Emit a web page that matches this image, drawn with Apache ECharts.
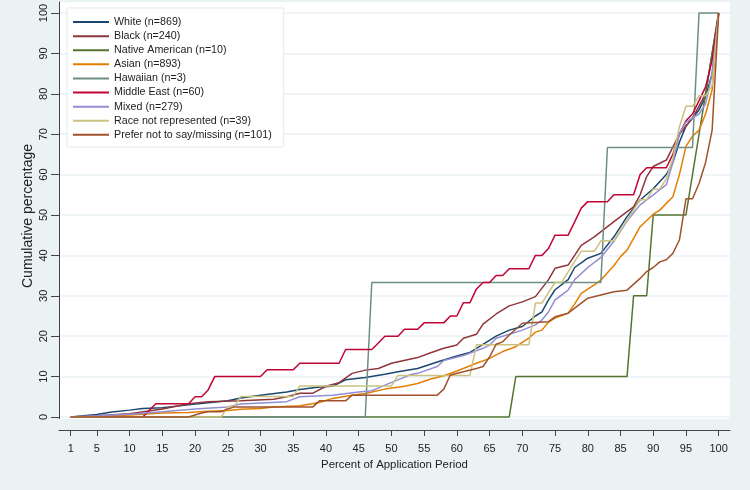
<!DOCTYPE html>
<html>
<head>
<meta charset="utf-8">
<script src="https://cdn.jsdelivr.net/npm/echarts@6/dist/echarts.min.js"></script>
<style>
  html, body { margin: 0; background: #eaf2f3; }
  #main { width: 750px; height: 490px; }
</style>
</head>
<body>
<div id="main"></div>
<script>
// tick labels
const xTicks = [1, 5, 10, 15, 20, 25, 30, 35, 40, 45, 50, 55, 60, 65, 70, 75, 80, 85, 90, 95, 100];
const yTicks = [0, 10, 20, 30, 40, 50, 60, 70, 80, 90, 100];

const seriesNames = [
  "White (n=869)", "Black (n=240)", "Native American (n=10)", "Asian (n=893)",
  "Hawaiian (n=3)", "Middle East (n=60)", "Mixed (n=279)",
  "Race not represented (n=39)", "Prefer not to say/missing (n=101)"
];

// [percent of application period, cumulative percentage]
const white = [[1,0],[3,0.3],[5,0.6],[7,1.2],[10,1.7],[12,2.1],[15,2.3],[19,3],[22,3.5],[25,4],[27,4.7],[30,5.4],[34,6.2],[36,6.8],[39,7.4],[41,7.6],[43,9.2],[46,9.8],[49,10.6],[51,11.2],[54,12],[57,13.6],[60,15.1],[62,16],[63,17],[66,20],[68,21.5],[70,22.4],[72,25],[73,26],[74,29],[75,31.5],[77,34],[78,37],[80,39.3],[82,40.5],[84,44.6],[86,49.6],[88,53.7],[90,56.5],[92,60],[93,63],[94,68],[95,72],[96,74],[97,76],[98,79.3],[99,85],[100,100]];
const black = [[1,0],[5,0.3],[10,0.8],[15,2],[19,3.3],[22,3.8],[27,4],[32,4.4],[34,5],[36,5.9],[38,5.9],[40,7.6],[42,8.5],[44,10.8],[46,11.6],[48,12],[50,13.3],[54,14.7],[56,15.9],[58,17],[60,17.8],[61,19.5],[63,20.5],[64,23],[66,25.5],[68,27.5],[70,28.5],[72,29.8],[74,34],[75,36.8],[77,37.6],[79,42.5],[81,44.6],[83,47.1],[85,49.6],[87,52],[88,55],[89,59.5],[90,62],[92,63.6],[94,70],[96,74],[98,80],[99,90],[100,100]];
const nativeAmerican = [[1,0],[68,0],[69,10],[86,10],[87,30],[89,30],[90,50],[95,50],[96,60],[97,70],[98,80],[99,90],[100,100]];
const asian = [[1,0],[5,0.1],[10,0.5],[15,1],[19,1.1],[22,1.4],[25,1.6],[27,1.9],[30,2.1],[32,2.5],[36,2.8],[39,3.6],[41,4.6],[44,5.4],[46,5.8],[49,6.9],[52,7.6],[54,8.3],[56,9.4],[58,10.2],[60,11.4],[63,13.3],[65,14.5],[67,16.2],[69,17.4],[71,19.5],[72,21],[73,21.5],[74,23.5],[75,24.5],[77,25.7],[78,28],[79,30.6],[81,32.7],[82,33.9],[84,37.5],[85,39.7],[86,41.3],[88,47.1],[90,50.2],[91,51.2],[93,54.5],[94,60],[95,67],[96,69.5],[97,71],[98,75],[99,81],[100,100]];
const hawaiian = [[1,0],[46,0],[47,33.3],[82,33.3],[83,66.7],[96,66.7],[97,100],[100,100]];
const middleEast = [[1,0],[12,0],[14,3.3],[19,3.3],[20,5],[21,5],[22,6.7],[23,10],[30,10],[31,11.7],[35,11.7],[36,13.3],[42,13.3],[43,16.7],[47,16.7],[48,18.3],[49,20],[51,20],[52,21.7],[54,21.7],[55,23.3],[58,23.3],[59,25],[60,25],[61,28.3],[62,28.3],[63,31.7],[64,33.3],[65,33.3],[66,35],[67,35],[68,36.7],[71,36.7],[72,40],[73,40],[74,41.7],[75,45],[77,45],[78,48.3],[79,51.7],[80,53.3],[83,53.3],[84,55],[87,55],[88,60],[89,61.7],[92,61.7],[93,65],[94,70],[95,73.3],[96,75],[97,78.3],[98,81.7],[99,88.3],[100,100]];
const mixed = [[1,0],[5,0.3],[10,0.7],[15,1.3],[20,2],[25,2.5],[27,3.2],[34,3.8],[36,5],[41,5.4],[45,6.2],[47,6.5],[49,7.9],[51,9.2],[53,10.5],[54,10.8],[57,12.5],[58,14],[61,15.2],[64,17],[65,17.8],[66,19.5],[68,20.5],[70,21.5],[72,22.8],[73,24],[74,26],[75,29],[77,31.4],[78,34],[80,37],[82,39.5],[84,43.5],[86,48.5],[88,52.5],[90,55],[92,57.5],[93,63],[94,70],[95,73],[97,75],[98,77.5],[99,85],[100,100]];
const raceNotRep = [[1,0],[24,0],[25,2.6],[26,2.6],[27,5.1],[35,5.1],[36,7.7],[50,7.7],[51,10.3],[62,10.3],[63,17.9],[71,17.9],[72,28.2],[73,28.2],[74,30.8],[75,33.3],[76,33.3],[77,35.9],[78,38.5],[79,41],[81,41],[82,43.6],[84,43.6],[85,46.2],[86,48.7],[87,51.3],[88,53.8],[89,53.8],[90,56.4],[91,56.4],[92,59],[93,64],[94,71.8],[95,76.9],[96,76.9],[97,79.5],[98,79.5],[99,82],[100,100]];
const preferNot = [[1,0],[19,0],[20,0.5],[21,1],[22,1.3],[24,1.3],[25,2],[26,2.5],[38,2.5],[39,4],[43,4],[44,5.4],[57,5.4],[58,6.9],[59,10.4],[63,12],[64,12.5],[65,14.9],[66,18],[67,18.6],[68,20.3],[70,23.2],[74,23.6],[75,24.8],[77,25.7],[80,29.4],[82,30.2],[84,31],[86,31.4],[88,34.3],[89,36],[90,37],[91,38.4],[92,38.9],[93,40.5],[94,43.8],[95,54],[96,54],[97,57.8],[98,63],[99,71],[100,100]];

const seriesData = [white, black, nativeAmerican, asian, hawaiian, middleEast, mixed, raceNotRep, preferNot];
const colors = ["#1a476f", "#90353b", "#55752f", "#e37e00", "#6e8e84", "#c10534", "#938dd2", "#cac27e", "#a0522d"];

// plot region padding (Stata-style margins around the data)
const xMin = -0.79, xMax = 101.73;
const yMin = -3.22, yMax = 102.72;

const font = "Liberation Sans, Arial, sans-serif";
const chart = echarts.init(document.getElementById("main"));

const series = seriesNames.map((name, i) => ({
  name: name,
  type: "line",
  data: seriesData[i],
  showSymbol: false,
  symbol: "none",
  lineStyle: { width: 1.5, color: colors[i] },
  itemStyle: { color: colors[i] },
  emphasis: { disabled: true }
}));
// light band between the plot region and the x axis
series[0].markArea = {
  silent: true,
  itemStyle: { color: "#eaf2f3" },
  data: [[{ yAxis: yMin }, { yAxis: -0.5 }]]
};

chart.setOption({
  backgroundColor: "#eaf2f3",
  animation: false,
  textStyle: { fontFamily: font },
  grid: {
    left: 59, right: 20, top: 2, bottom: 60,
    show: true, backgroundColor: "#ffffff", borderWidth: 0,
    outerBoundsMode: "none"
  },
  legend: {
    left: 67, top: 8,
    orient: "vertical",
    backgroundColor: "#ffffff",
    borderColor: "#e3ebed",
    borderWidth: 1,
    padding: [7, 12, 5, 6],
    icon: "rect",
    itemWidth: 36,
    itemHeight: 2,
    itemGap: 0,
    textStyle: { fontSize: 10.7, color: "#222", lineHeight: 14.1, fontFamily: font },
    data: seriesNames
  },
  xAxis: {
    type: "value",
    min: xMin, max: xMax,
    name: "Percent of Application Period",
    nameLocation: "middle",
    nameGap: 25,
    nameTextStyle: { fontSize: 11.4, color: "#222", fontFamily: font },
    axisLine: { onZero: false, lineStyle: { color: "#444", width: 1 } },
    axisTick: { customValues: xTicks, length: 6, lineStyle: { color: "#444" } },
    axisLabel: { customValues: xTicks, fontSize: 11, color: "#222", margin: 13, fontFamily: font },
    splitLine: { show: false }
  },
  yAxis: {
    type: "value",
    min: yMin, max: yMax,
    name: "Cumulative percentage",
    nameLocation: "middle",
    nameGap: 24,
    nameMoveOverlap: false,
    nameTextStyle: { fontSize: 14, color: "#222", fontFamily: font },
    axisLine: { show: true, onZero: false, lineStyle: { color: "#444", width: 1 } },
    axisTick: { show: true, customValues: yTicks, length: 8, lineStyle: { color: "#444" } },
    axisLabel: { customValues: yTicks, rotate: 90, fontSize: 11, color: "#222", margin: 10, fontFamily: font },
    splitLine: { show: true, lineStyle: { color: "#eaf2f3", width: 1.5 } }
  },
  series: series
});
</script>
</body>
</html>
